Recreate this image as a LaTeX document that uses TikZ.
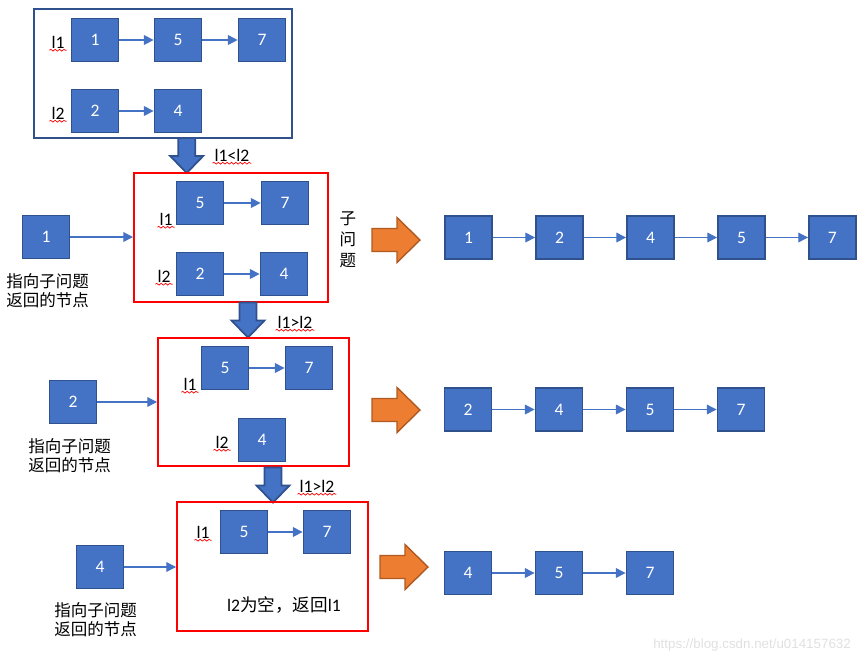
\documentclass[tikz,border=0pt]{standalone}
\usepackage{fontspec}
\setmainfont{Carlito}
\newfontfamily\cjk{Noto Sans CJK SC}
\newfontfamily\marksans{Liberation Sans}
\usetikzlibrary{arrows.meta,decorations.pathmorphing}
\definecolor{boxblue}{HTML}{4472C4}
\definecolor{boxedge}{HTML}{2F528F}
\definecolor{framered}{HTML}{FF0000}
\definecolor{arroworange}{HTML}{ED7D31}
\definecolor{orangeedge}{HTML}{AE5A21}

\begin{document}
\begin{tikzpicture}[x=0.02cm,y=-0.02cm,node distance=1.82cm,
    >={Triangle[length=5.5pt,width=5.5pt]},
    list node/.style={draw=boxedge,line width=1pt,fill=boxblue,text=white,
      minimum width=0.94cm,minimum height=0.86cm,inner sep=0pt,
      font=\fontsize{10}{12}\selectfont},
    ptr/.style={font=\fontsize{10}{12}\selectfont,inner sep=1pt},
    note/.style={font=\cjk\fontsize{9.4}{10.8}\selectfont,align=left,inner sep=0pt},
    link/.style={->,color=boxblue,line width=0.6pt},
    sub frame/.style={draw=framered,line width=1.1pt,minimum width=3.82cm,minimum height=2.58cm},
    wavy/.style={draw=red,line width=0.4pt,decorate,
      decoration={snake,amplitude=0.5pt,segment length=2.5pt}},
    down arrow/.pic={\draw[draw=boxedge,fill=boxblue,line width=1pt]
      (-8.5,-35) -- (8.5,-35) -- (8.5,-17) -- (16.5,-17) -- (0,0)
      -- (-16.5,-17) -- (-8.5,-17) -- cycle;},
    merge arrow/.pic={\draw[draw=orangeedge,fill=arroworange,line width=0.8pt]
      (-48,-11.5) -- (-23,-11.5) -- (-23,-22.5) -- (0,0)
      -- (-23,22.5) -- (-23,11.5) -- (-48,11.5) -- cycle;}]

  \useasboundingbox (0,0) rectangle (866,664);

  % the two input lists
  \node[draw=boxedge,line width=1.3pt,minimum width=5.16cm,minimum height=2.58cm] (top) at (163,73.5) {};
  \node[list node] (t1) at (95,40) {1};
  \node[list node] (t5) at (178,40) {5};
  \node[list node] (t7) at (262,40) {7};
  \node[list node] (t2) at (95,111) {2};
  \node[list node] (t4) at (178,111) {4};
  \node[ptr] (ta) at (58,42) {l1};
  \node[ptr] (tb) at (58,113) {l2};
  \path[link] (t1) edge (t5) (t5) edge (t7) (t2) edge (t4);

  % first sub problem
  \pic at (186.7,173) {down arrow};
  \node[ptr] (c1) at (232,155) {l1<l2};
  \node[sub frame,minimum width=3.88cm] (f1) at (231,237.5) {};
  \node[list node] (p5) at (200,203) {5};
  \node[list node] (p7) at (285,203) {7};
  \node[list node] (p2) at (200,274) {2};
  \node[list node] (p4) at (284,274) {4};
  \node[ptr] (pa) at (166,219) {l1};
  \node[ptr] (pb) at (164,276) {l2};
  \path[link] (p5) edge (p7) (p2) edge (p4);
  \node[list node] (r1) at (46,237) {1};
  \draw[link] (r1) -- (r1 -| f1.west);
  \node[note,anchor=west] (n1) at (6,291) {指向子问题\\返回的节点};
  \node[note,align=center,font=\cjk\fontsize{9.4}{11.9}\selectfont] (sub) at (348,240) {子\\问\\题};
  \pic at (420,240) {merge arrow};
  \node[list node] (a1) at (468.5,237.5) {1};
  \node[list node] (a2) [right of=a1] {2};
  \node[list node] (a4) [right of=a2] {4};
  \node[list node] (a5) [right of=a4] {5};
  \node[list node] (a7) [right of=a5] {7};
  \path[link] (a1) edge (a2) (a2) edge (a4) (a4) edge (a5) (a5) edge (a7);

  % second sub problem
  \pic at (248,337.5) {down arrow};
  \node[ptr] (c2) at (295,322) {l1>l2};
  \node[sub frame,minimum height=2.56cm] (f2) at (253.5,402) {};
  \node[list node] (q5) at (225,368) {5};
  \node[list node] (q7) at (309,368) {7};
  \node[list node] (q4) at (262,440) {4};
  \node[ptr] (qa) at (190,384) {l1};
  \node[ptr] (qb) at (222,442) {l2};
  \path[link] (q5) edge (q7);
  \node[list node] (r2) at (73,402) {2};
  \draw[link] (r2) -- (r2 -| f2.west);
  \node[note,anchor=west] (n2) at (28,456) {指向子问题\\返回的节点};
  \pic at (420,410) {merge arrow};
  \node[list node] (b2) at (468,409.5) {2};
  \node[list node] (b4) [right of=b2] {4};
  \node[list node] (b5) [right of=b4] {5};
  \node[list node] (b7) [right of=b5] {7};
  \path[link] (b2) edge (b4) (b4) edge (b5) (b5) edge (b7);

  % third sub problem
  \pic at (273,502.5) {down arrow};
  \node[ptr] (c3) at (317,486) {l1>l2};
  \node[sub frame] (f3) at (272.5,566.5) {};
  \node[list node] (s5) at (244,532) {5};
  \node[list node] (s7) at (327,532) {7};
  \node[ptr] (sa) at (203,532) {l1};
  \path[link] (s5) edge (s7);
  \node[ptr] (empty) at (284,605) {l2{\cjk 为空，返回}l1};
  \node[list node] (r4) at (100,567) {4};
  \draw[link] (r4) -- (r4 -| f3.west);
  \node[note,anchor=west] (n3) at (54,620) {指向子问题\\返回的节点};
  \pic at (428,567) {merge arrow};
  \node[list node] (d4) at (468,573) {4};
  \node[list node] (d5) [right of=d4] {5};
  \node[list node] (d7) [right of=d5] {7};
  \path[link] (d4) edge (d5) (d5) edge (d7);

  \foreach \n in {ta,tb,c1,pa,pb,c2,qa,qb,c3,sa}
    \draw[wavy] (\n.south west) -- (\n.south east);

  \node[anchor=east,text=black!12,font=\marksans\fontsize{7.6}{9}\selectfont] (mark) at (857,645) {https://blog.csdn.net/u014157632};
\end{tikzpicture}
\end{document}
